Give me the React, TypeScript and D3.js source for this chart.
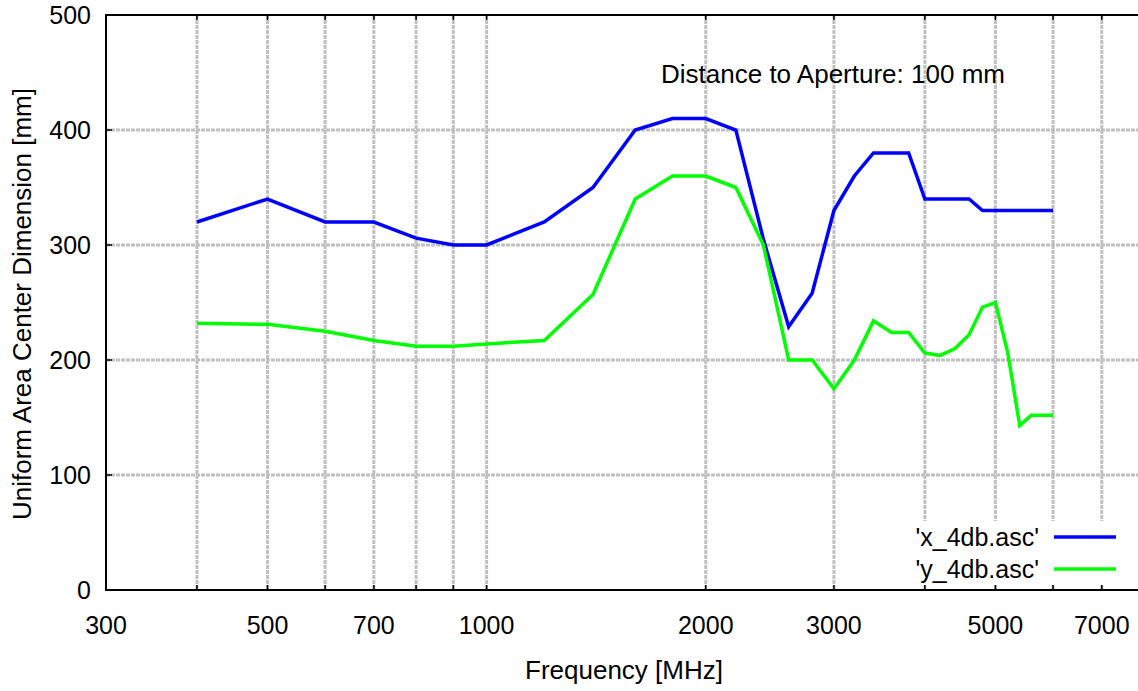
import * as d3 from 'd3';
import React from 'react';

// frequency sample points [MHz]
const freqs = [400, 500, 600, 700, 800, 900, 1000, 1200, 1400, 1600, 1800, 2000, 2200, 2400, 2600, 2800,
    3000, 3200, 3400, 3600, 3800, 4000, 4200, 4400, 4600, 4800, 5000, 5200, 5400, 5600, 5800, 6000];

// 'x_4db.asc'
const xDim = [320, 340, 320, 320, 306, 300, 300, 320, 350, 400, 410, 410, 400, 305, 229, 258,
    330, 360, 380, 380, 380, 340, 340, 340, 340, 330, 330, 330, 330, 330, 330, 330];

// 'y_4db.asc'
const yDim = [232, 231, 225, 217, 212, 212, 214, 217, 257, 340, 360, 360, 350, 300, 200, 200,
    175, 200, 234, 224, 224, 206, 204, 210, 222, 246, 250, 206, 143, 152, 152, 152];

const xGrid = [400, 500, 600, 700, 800, 900, 1000, 2000, 3000, 4000, 5000, 6000, 7000];
const xTickLabels = [300, 500, 700, 1000, 2000, 3000, 5000, 7000];
const yTicks = [0, 100, 200, 300, 400, 500];

const series = [
    { name: "'x_4db.asc'", values: xDim, color: '#0000ff' },
    { name: "'y_4db.asc'", values: yDim, color: '#00ff00' },
];

const W = 1138;
const H = 691;
const font = '"Liberation Sans", Arial, sans-serif';

const App: React.FC = () => {
    const x = d3.scaleLog().domain([300, 8000]).range([106, 1144]);
    const y = d3.scaleLinear().domain([0, 500]).range([590, 15]);

    const line = d3.line<number>()
        .x((_, i) => x(freqs[i]))
        .y((d) => y(d));

    const legendTop = 521;
    const legendBottom = 585;

    return (
        <svg width={W} height={H} style={{ position: 'absolute', left: 0, top: 0, background: '#fff' }}
            fontFamily={font}>
            {/* grid */}
            <g stroke="#c0c0c0" strokeWidth={3} strokeDasharray="4,1">
                {xGrid.map((f) => (
                    <line key={'gx' + f} x1={x(f)} x2={x(f)} y1={y(500)} y2={y(0)} />
                ))}
                {yTicks.slice(1, -1).map((v) => (
                    <line key={'gy' + v} x1={x(300)} x2={W} y1={y(v)} y2={y(v)} />
                ))}
            </g>

            {/* lines */}
            {series.map((s) => (
                <path key={s.name} d={line(s.values) || ''} fill="none" stroke={s.color}
                    strokeWidth={3.5} strokeLinejoin="miter" />
            ))}

            {/* legend box (blanks the grid) */}
            <rect x={905} y={legendTop} width={W - 905} height={legendBottom - legendTop} fill="#fff" />
            {series.map((s, i) => {
                const ly = 537 + i * 32;
                return (
                    <g key={'lg' + s.name}>
                        <text x={1039} y={ly + 9} textAnchor="end" fontSize={25} fill="#000">{s.name}</text>
                        <line x1={1054} x2={1116} y1={ly} y2={ly} stroke={s.color} strokeWidth={3.5} />
                    </g>
                );
            })}

            {/* frame */}
            <g stroke="#000" strokeWidth={2} fill="none">
                <line x1={x(300)} x2={x(300)} y1={y(0)} y2={y(500)} />
                <line x1={x(300) - 1} x2={W} y1={y(0)} y2={y(0)} />
                <line x1={x(300) - 1} x2={W} y1={y(500)} y2={y(500)} />
            </g>

            {/* ticks */}
            <g stroke="#000" strokeWidth={1.5}>
                {xGrid.map((f) => (
                    <g key={'tx' + f}>
                        <line x1={x(f)} x2={x(f)} y1={y(0)} y2={y(0) - 5} />
                        <line x1={x(f)} x2={x(f)} y1={y(500)} y2={y(500) + 5} />
                    </g>
                ))}
                {yTicks.slice(1, -1).map((v) => (
                    <line key={'ty' + v} x1={x(300)} x2={x(300) + 6} y1={y(v)} y2={y(v)} />
                ))}
            </g>

            {/* tick labels */}
            {xTickLabels.map((f) => (
                <text key={'lx' + f} x={x(f)} y={634} textAnchor="middle" fontSize={25} fill="#000">{f}</text>
            ))}
            {yTicks.map((v) => (
                <text key={'ly' + v} x={91} y={y(v) + 9} textAnchor="end" fontSize={25} fill="#000">{v}</text>
            ))}

            {/* labels */}
            <text x={624} y={679} textAnchor="middle" fontSize={26} fill="#000">Frequency [MHz]</text>
            <text transform="translate(31,304) rotate(-90)" textAnchor="middle" fontSize={26} fill="#000">
                Uniform Area Center Dimension [mm]
            </text>
            <text x={661} y={83} fontSize={26} fill="#000">Distance to Aperture: 100 mm</text>
        </svg>
    );
};

export default App;
